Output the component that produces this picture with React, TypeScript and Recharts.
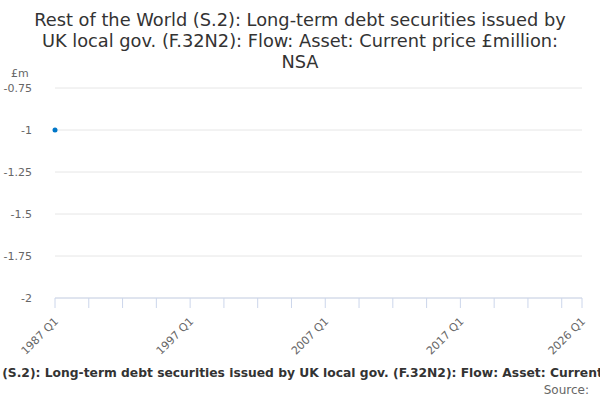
import { LineChart, Line, XAxis, YAxis, CartesianGrid } from "recharts";

// quarter index counted from 1987 Q1
const quarters = ["1987 Q1"];
const values = [-1];

const startYear = 1987;
const endIndex = 156; // 2026 Q1
const xTicks = [0, 10, 20, 30, 40, 50, 60, 70, 80, 90, 100, 110, 120, 130, 140, 150, 156];
const labelledTicks = [0, 40, 80, 120, 156];
const yTicks = [-2, -1.75, -1.5, -1.25, -1, -0.75];

const titleLines = [
  "Rest of the World (S.2): Long-term debt securities issued by",
  "UK local gov. (F.32N2): Flow: Asset: Current price £million:",
  "NSA",
];
const title = titleLines.join(" ");

const data = quarters.map((q, i) => ({ x: i, label: q, value: values[i] }));

const font = "'DejaVu Sans', sans-serif";

function quarterLabel(idx: number) {
  const y = startYear + Math.floor(idx / 4);
  return `${y} Q${(idx % 4) + 1}`;
}

function XTick(props: any) {
  const { x, y, payload } = props;
  if (!labelledTicks.includes(payload.value)) return null;
  return (
    <text
      x={x + 4}
      y={y + 12}
      transform={`rotate(-45 ${x + 4} ${y + 12})`}
      textAnchor="end"
      fontSize={11}
      fill="#666"
      fontFamily={font}
    >
      {quarterLabel(payload.value)}
    </text>
  );
}

export default function App() {
  return (
    <div style={{ position: "absolute", left: 0, top: 0, width: 600, height: 400, background: "#fff", fontFamily: font, overflow: "hidden" }}>
      <div
        style={{
          position: "absolute",
          left: 0,
          top: 9,
          width: 600,
          textAlign: "center",
          fontSize: 17.8,
          lineHeight: "21px",
          color: "#333",
          whiteSpace: "nowrap",
        }}
      >
        {titleLines.map((l) => (
          <div key={l}>{l}</div>
        ))}
      </div>
      <div style={{ position: "absolute", left: 11, top: 67, fontSize: 11, color: "#666" }}>£m</div>
      <LineChart width={600} height={400} data={data} margin={{ top: 88, right: 18, bottom: 52, left: 0 }}>
        <CartesianGrid vertical={false} stroke="#e6e6e6" />
        <XAxis
          dataKey="x"
          type="number"
          domain={[0, endIndex]}
          ticks={xTicks}
          interval={0}
          height={50}
          stroke="#ccd6eb"
          tickSize={10}
          tick={<XTick />}
        />
        <YAxis
          type="number"
          domain={[-2, -0.75]}
          ticks={yTicks}
          width={55}
          axisLine={false}
          tickLine={false}
          tickMargin={17}
          tick={{ fontSize: 11, fill: "#666", fontFamily: font }}
        />
        <Line
          dataKey="value"
          stroke="#0077c8"
          strokeWidth={2}
          dot={{ r: 2.5, fill: "#0077c8", stroke: "none" }}
          isAnimationActive={false}
        />
        <text x={308} y={377} textAnchor="middle" fontSize={12.3} fontWeight="bold" fill="#333" fontFamily={font}>
          {title}
        </text>
        <text x={589} y={394} textAnchor="end" fontSize={12} fill="#666" fontFamily={font}>
          Source:
        </text>
      </LineChart>
    </div>
  );
}
